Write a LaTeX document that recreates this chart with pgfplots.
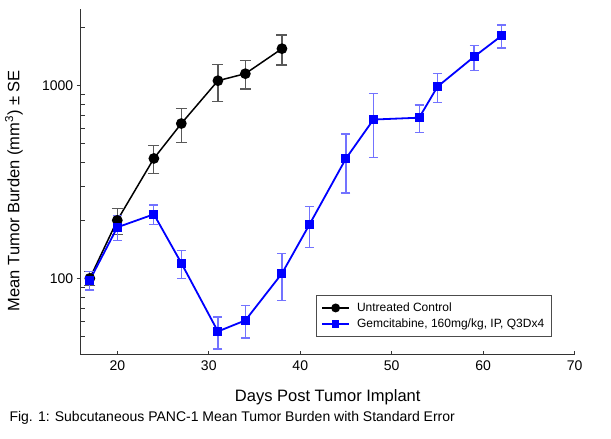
\documentclass[border=0pt]{standalone}
\usepackage{fontspec}
\setmainfont{Liberation Sans}
\usepackage{pgfplots}
\pgfplotsset{compat=1.18}
\definecolor{pureblue}{RGB}{0,0,255}
\begin{document}
\begin{tikzpicture}[x=1pt,y=1pt]
\path[use as bounding box] (0,0) rectangle (611,439);
\begin{axis}[
  at={(80.7pt,84pt)}, anchor=south west,
  scale only axis, width=494pt, height=346pt,
  xmin=16, xmax=70, ymin=40, ymax=2500, ymode=log,
  axis x line*=bottom, axis y line*=left,
  axis line style={black!80, line width=1pt, -},
  xtick={20,30,40,50,60,70},
  ytick={100,1000},
  minor ytick={50,60,70,80,90,200,300,400,500,600,700,800,900,2000},
  log ticks with fixed point,
  /pgf/number format/1000 sep={},
  /pgf/number format/assume math mode=true,
  xtick align=inside, ytick align=outside,
  major tick length=4pt, minor tick length=4pt,
  minor y tick style={xshift=4pt},
  tick style={black!80, line width=0.8pt},
  ticklabel style={font=\fontsize{14}{16}\selectfont},
  xticklabel style={yshift=-2pt},
  xlabel={Days Post Tumor Implant},
  xlabel style={font=\fontsize{16.5}{19}\selectfont, at={(axis description cs:0.5,-0.133)}, anchor=base},
  ylabel={Mean Tumor Burden (mm\textsuperscript{3}) ± SE},
  ylabel style={font=\fontsize{16.5}{19}\selectfont, at={(axis description cs:-0.135,0.475)}, anchor=center},
  legend style={at={(axis description cs:0.476,0.053)}, anchor=south west,
    draw=black!70, line width=0.8pt, font=\fontsize{12}{15}\selectfont,
    inner xsep=5pt, inner ysep=5pt, row sep=2pt,
    /tikz/every odd column/.append style={column sep=5pt}},
  legend cell align=left,
  legend image code/.code={\draw[mark repeat=2,mark phase=2,#1,mark options={scale=0.8}] plot coordinates {(0pt,0pt) (13.5pt,0pt) (27pt,0pt)};},
]
\addplot[black, line width=1.5pt, mark=*, mark size=4.6pt,
  error bars/.cd, y dir=both, y explicit,
  error bar style={black!65, line width=1.2pt},
  error mark options={rotate=90, mark size=5.5pt, black!65, line width=1.2pt}]
coordinates {
(17,100) +- (0,8.5)
(20,200) +- (0,31)
(24,419) +- (0,70)
(27,636) +- (0,128)
(31,1061) +- (0,232)
(34,1154) +- (0,192)
(38,1556) +- (0,276)
};
\addlegendentry{Untreated Control}
\addplot[pureblue, line width=1.8pt, mark=square*, mark size=3.6pt,
  error bars/.cd, y dir=both, y explicit,
  error bar style={pureblue!55, line width=1.2pt},
  error mark options={rotate=90, mark size=4.5pt, pureblue!55, line width=1.2pt}]
coordinates {
(17,98) +- (0,11)
(20,184) +- (0,27)
(24,215) +- (0,25)
(27,120) +- (0,20)
(31,53) +- (0,10)
(34,60.5) +- (0,11.5)
(38,106) +- (0,29)
(41,190) +- (0,46)
(45,419) +- (0,142)
(48,667) +- (0,242)
(53,682) +- (0,112)
(55,988) +- (0,170)
(59,1413) +- (0,210)
(62,1815) +- (0,248)
};
\addlegendentry{Gemcitabine, 160mg/kg, IP, Q3Dx4}
\end{axis}
\node[anchor=base west, font=\fontsize{14}{16}\selectfont, inner sep=0pt] at (9.3,17.3) {Fig. 1: Subcutaneous PANC-1 Mean Tumor Burden with Standard Error};
\end{tikzpicture}
\end{document}
